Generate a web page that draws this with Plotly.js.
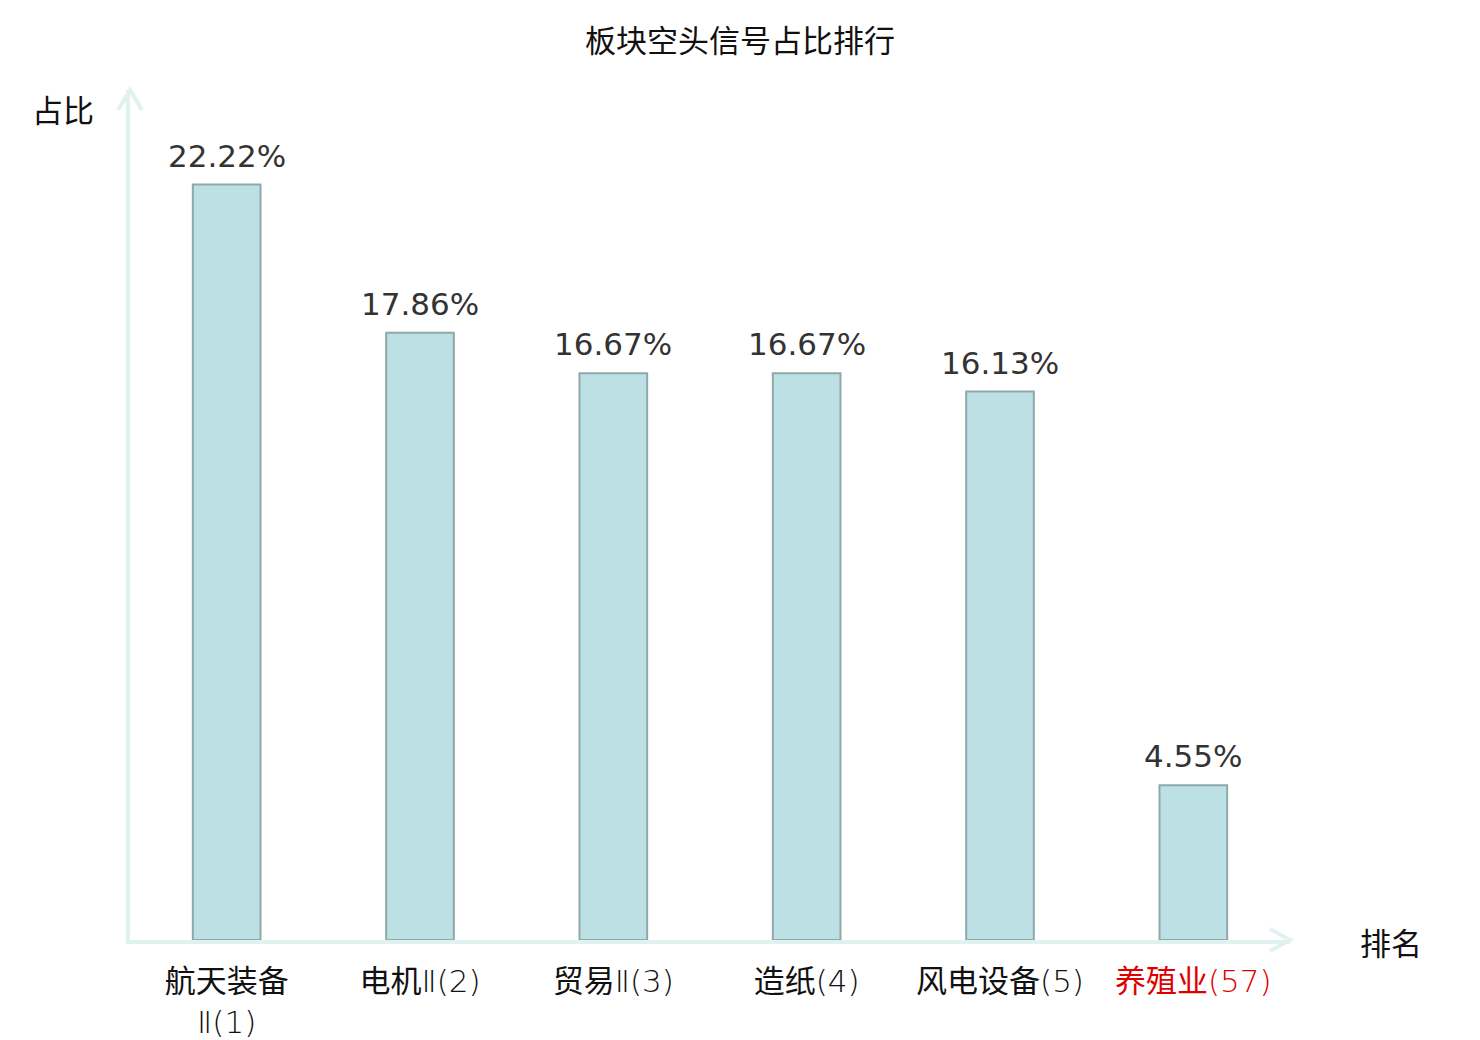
<!DOCTYPE html>
<html>
<head>
<meta charset="utf-8">
<script src="https://cdn.plot.ly/plotly-3.0.1.min.js"></script>
<style>
  body { margin: 0; background: #fff; }
  #graph { width: 1480px; height: 1040px; }
</style>
</head>
<body>
<div id="graph"></div>
<script>
// 板块名称(排名) 和 空头信号占比
let sectors = ['航天装备<br>Ⅱ(1)', '电机Ⅱ(2)', '贸易Ⅱ(3)', '造纸(4)', '风电设备(5)', '养殖业(57)'];
let ratios = [22.22, 17.86, 16.67, 16.67, 16.13, 4.55];
let labels = ['22.22%', '17.86%', '16.67%', '16.67%', '16.13%', '4.55%'];
let tickColors = ['#111', '#111', '#111', '#111', '#111', '#e00000'];

let fontFam = '"DejaVu Sans", "Noto Sans CJK SC", sans-serif';
let cjkFam = '"Noto Sans CJK SC", sans-serif';
let tickFam = '"DejaVu Sans", "Noto Sans CJK SC", sans-serif';
let axisColor = '#dff2ef';

let keys = sectors.map((s, i) => 'c' + i);
// 汉字用常规字重, 数字和括号用细体
let tickText = sectors.map((s, i) => '<span style="color:' + tickColors[i] + '">' +
	s.replace(/([\u4e00-\u9fff]+)/g, '<span style="font-weight:400">$1</span>') + '</span>');

var trace = {
	x: keys,
	y: ratios,
	type: 'bar',
	marker: {
		color: '#bce0e3',
		line: {color: '#8fa9aa', width: 2}
	},
	hoverinfo: 'none'
};

// 柱顶数值
var anns = keys.map((k, i) => ({
	x: k, y: ratios[i], xref: 'x', yref: 'y',
	text: labels[i], showarrow: false,
	yanchor: 'bottom', yshift: 9,
	font: {family: fontFam, size: 31, color: '#333'}
}));

anns.push({
	xref: 'paper', yref: 'paper', x: -0.058, y: 0.978,
	text: '占比', showarrow: false, xanchor: 'center', yanchor: 'middle',
	font: {family: cjkFam, size: 31, color: '#111'}
});
anns.push({
	xref: 'paper', yref: 'paper', x: 1.087, y: -0.002,
	text: '排名', showarrow: false, xanchor: 'center', yanchor: 'middle',
	font: {family: cjkFam, size: 31, color: '#111'}
});

var layout = {
	width: 1480,
	height: 1040,
	margin: {l: 130, r: 190, t: 90, b: 100},
	paper_bgcolor: '#fff',
	plot_bgcolor: '#fff',
	showlegend: false,
	bargap: 0.65,
	title: {
		text: '板块空头信号占比排行',
		x: 0.5, xref: 'container', xanchor: 'center',
		y: 0.96, yanchor: 'middle',
		font: {family: cjkFam, size: 31, color: '#111'}
	},
	xaxis: {
		type: 'category',
		tickvals: keys,
		ticktext: tickText,
		showline: true, linecolor: axisColor, linewidth: 4,
		showgrid: false, zeroline: false, ticks: '',
		ticklabelstandoff: 11,
		tickfont: {family: tickFam, size: 31, color: '#111', weight: 200},
		fixedrange: true
	},
	yaxis: {
		range: [0, 25],
		showline: true, linecolor: axisColor, linewidth: 4,
		showgrid: false, zeroline: false, showticklabels: false, ticks: '',
		fixedrange: true
	},
	annotations: anns,
	shapes: [
		{
			type: 'path', xref: 'paper', yref: 'paper',
			xsizemode: 'pixel', ysizemode: 'pixel', xanchor: 1, yanchor: 0,
			path: 'M-20,-11 L0,0 L-20,11',
			line: {color: axisColor, width: 4}
		},
		{
			type: 'path', xref: 'paper', yref: 'paper',
			xsizemode: 'pixel', ysizemode: 'pixel', xanchor: 0, yanchor: 1,
			path: 'M-12,-20 L0,0 L12,-20',
			line: {color: axisColor, width: 4}
		}
	]
};

Plotly.newPlot('graph', [trace], layout, {staticPlot: true});
</script>
</body>
</html>
